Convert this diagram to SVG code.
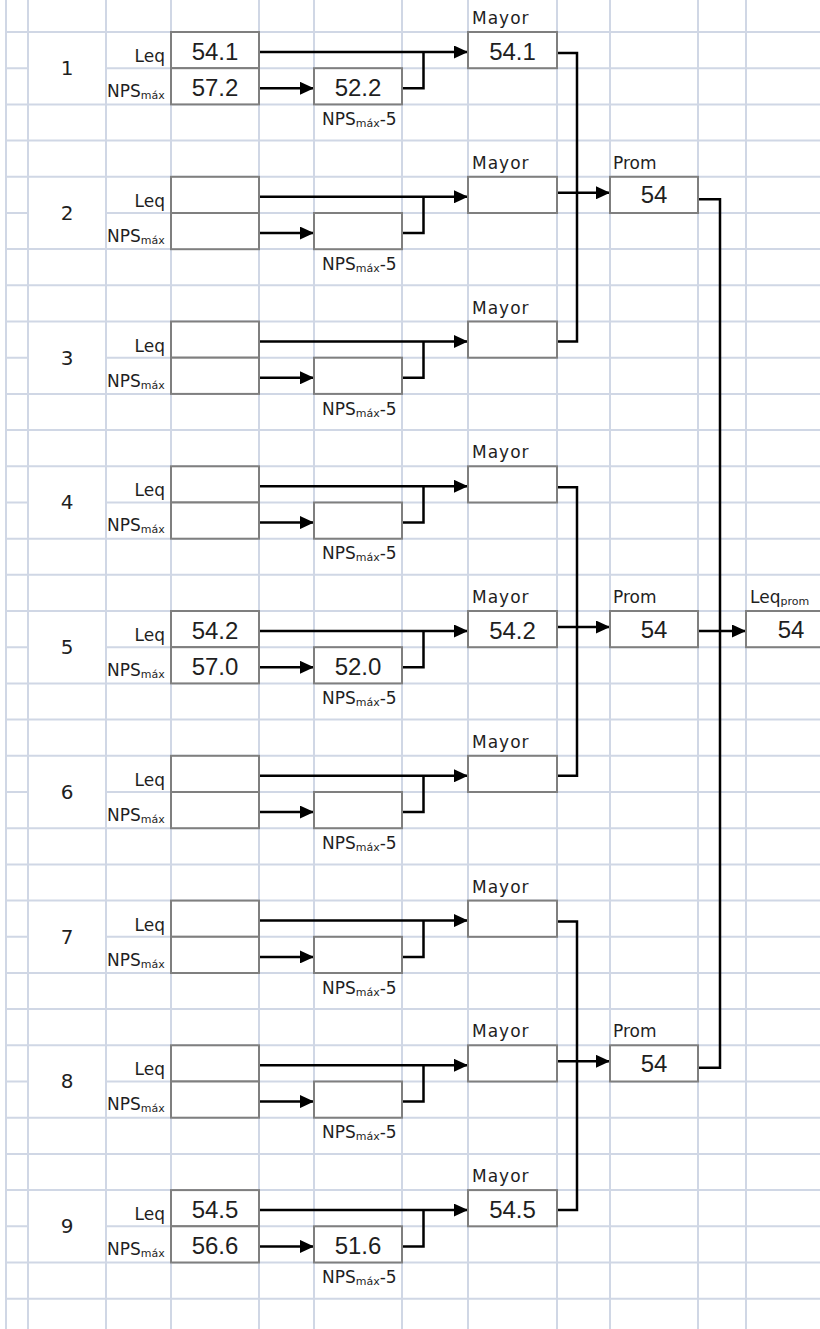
<svg xmlns="http://www.w3.org/2000/svg" width="820" height="1329" viewBox="0 0 820 1329">
<style>
.grid{fill:none;stroke:#d0d7e5;stroke-width:2}
.box{fill:#fff;stroke:#7f7f7f;stroke-width:2}
.lbl{font-family:"DejaVu Sans",sans-serif;font-size:17px;fill:#1f1f1f}
.sub{font-size:11px}
.num{font-family:"DejaVu Sans",sans-serif;font-size:20px;fill:#1f1f1f;text-anchor:middle}
.val{font-family:"Liberation Sans",Arial,sans-serif;font-size:24px;fill:#1f1f1f;text-anchor:middle}
.may{letter-spacing:1px}
.end{text-anchor:end}
.con{fill:none;stroke:#000;stroke-width:2.5}
.arw{marker-end:url(#arr)}
</style>
<defs>
<marker id="arr" markerUnits="userSpaceOnUse" markerWidth="14" markerHeight="13" refX="14" refY="6.5" orient="auto"><path d="M0 0L14 6.5L0 13z" fill="#000"/></marker>
</defs>
<rect width="820" height="1329" fill="#fff"/>
<path class="grid" d="M6 0V1329M28 0V1329M106 0V1329M171 0V1329M259 0V1329M314 0V1329M402 0V1329M468 0V1329M557 0V1329M610 0V1329M698 0V1329M746 0V1329
M6 32H820M6 104.4H820M6 140.6H820M6 176.8H820M6 249.1H820M6 285.3H820M6 321.5H820M6 393.9H820M6 430.1H820M6 466.3H820M6 538.7H820M6 574.8H820M6 611H820M6 683.4H820M6 719.6H820M6 755.8H820M6 828.2H820M6 864.4H820M6 900.6H820M6 972.9H820M6 1009.1H820M6 1045.3H820M6 1117.7H820M6 1153.9H820M6 1190.1H820M6 1262.5H820M6 1298.7H820
M6 68.2H28M106 68.2H820M6 212.9H28M106 212.9H820M6 357.7H28M106 357.7H820M6 502.5H28M106 502.5H820M6 647.2H28M106 647.2H820M6 792H28M106 792H820M6 936.8H28M106 936.8H820M6 1081.5H28M106 1081.5H820M6 1226.3H28M106 1226.3H820"/>
<g id="connectors">
<g transform="translate(0,32)"><path class="con arw" d="M259 20H468"/><path class="con arw" d="M259 56.3H314"/><path class="con" d="M402 56.3H423.5V20"/></g>
<g transform="translate(0,176.8)"><path class="con arw" d="M259 20H468"/><path class="con arw" d="M259 56.3H314"/><path class="con" d="M402 56.3H423.5V20"/></g>
<g transform="translate(0,321.5)"><path class="con arw" d="M259 20H468"/><path class="con arw" d="M259 56.3H314"/><path class="con" d="M402 56.3H423.5V20"/></g>
<g transform="translate(0,466.3)"><path class="con arw" d="M259 20H468"/><path class="con arw" d="M259 56.3H314"/><path class="con" d="M402 56.3H423.5V20"/></g>
<g transform="translate(0,611)"><path class="con arw" d="M259 20H468"/><path class="con arw" d="M259 56.3H314"/><path class="con" d="M402 56.3H423.5V20"/></g>
<g transform="translate(0,755.8)"><path class="con arw" d="M259 20H468"/><path class="con arw" d="M259 56.3H314"/><path class="con" d="M402 56.3H423.5V20"/></g>
<g transform="translate(0,900.6)"><path class="con arw" d="M259 20H468"/><path class="con arw" d="M259 56.3H314"/><path class="con" d="M402 56.3H423.5V20"/></g>
<g transform="translate(0,1045.3)"><path class="con arw" d="M259 20H468"/><path class="con arw" d="M259 56.3H314"/><path class="con" d="M402 56.3H423.5V20"/></g>
<g transform="translate(0,1190.1)"><path class="con arw" d="M259 20H468"/><path class="con arw" d="M259 56.3H314"/><path class="con" d="M402 56.3H423.5V20"/></g>
<path class="con" d="M557 53H577V341.5H557"/>
<path class="con arw" d="M557 192.8H610"/>
<path class="con" d="M557 487.3H577V775.8H557"/>
<path class="con arw" d="M557 627H610"/>
<path class="con" d="M557 921.6H577V1210.1H557"/>
<path class="con arw" d="M557 1061.3H610"/>
<path class="con" d="M698 199.3H720V1067.8H698"/>
<path class="con arw" d="M698 631H746"/>
</g>
<g id="group-1" transform="translate(0,32)">
<text class="num" x="67" y="43">1</text>
<text class="lbl end" x="165" y="30">Leq</text>
<text class="lbl" x="107" y="65">NPS<tspan class="sub" dy="2">máx</tspan></text>
<rect class="box" x="171" y="0" width="88" height="36.2"/><rect class="box" x="171" y="36.2" width="88" height="36.2"/>
<rect class="box" x="314" y="36.2" width="88" height="36.2"/>
<text class="lbl" x="322" y="93">NPS<tspan class="sub" dy="2">máx</tspan><tspan dy="-2">-5</tspan></text>
<text class="lbl may" x="472" y="-8">Mayor</text>
<rect class="box" x="468" y="0" width="89" height="36.2"/>
<text class="val" x="215" y="27.5">54.1</text><text class="val" x="215" y="64">57.2</text><text class="val" x="358" y="64">52.2</text><text class="val" x="512.5" y="27.5">54.1</text>
</g>
<g id="group-2" transform="translate(0,176.8)">
<text class="num" x="67" y="43">2</text>
<text class="lbl end" x="165" y="30">Leq</text>
<text class="lbl" x="107" y="65">NPS<tspan class="sub" dy="2">máx</tspan></text>
<rect class="box" x="171" y="0" width="88" height="36.2"/><rect class="box" x="171" y="36.2" width="88" height="36.2"/>
<rect class="box" x="314" y="36.2" width="88" height="36.2"/>
<text class="lbl" x="322" y="93">NPS<tspan class="sub" dy="2">máx</tspan><tspan dy="-2">-5</tspan></text>
<text class="lbl may" x="472" y="-8">Mayor</text>
<rect class="box" x="468" y="0" width="89" height="36.2"/>
</g>
<g id="group-3" transform="translate(0,321.5)">
<text class="num" x="67" y="43">3</text>
<text class="lbl end" x="165" y="30">Leq</text>
<text class="lbl" x="107" y="65">NPS<tspan class="sub" dy="2">máx</tspan></text>
<rect class="box" x="171" y="0" width="88" height="36.2"/><rect class="box" x="171" y="36.2" width="88" height="36.2"/>
<rect class="box" x="314" y="36.2" width="88" height="36.2"/>
<text class="lbl" x="322" y="93">NPS<tspan class="sub" dy="2">máx</tspan><tspan dy="-2">-5</tspan></text>
<text class="lbl may" x="472" y="-8">Mayor</text>
<rect class="box" x="468" y="0" width="89" height="36.2"/>
</g>
<g id="group-4" transform="translate(0,466.3)">
<text class="num" x="67" y="43">4</text>
<text class="lbl end" x="165" y="30">Leq</text>
<text class="lbl" x="107" y="65">NPS<tspan class="sub" dy="2">máx</tspan></text>
<rect class="box" x="171" y="0" width="88" height="36.2"/><rect class="box" x="171" y="36.2" width="88" height="36.2"/>
<rect class="box" x="314" y="36.2" width="88" height="36.2"/>
<text class="lbl" x="322" y="93">NPS<tspan class="sub" dy="2">máx</tspan><tspan dy="-2">-5</tspan></text>
<text class="lbl may" x="472" y="-8">Mayor</text>
<rect class="box" x="468" y="0" width="89" height="36.2"/>
</g>
<g id="group-5" transform="translate(0,611)">
<text class="num" x="67" y="43">5</text>
<text class="lbl end" x="165" y="30">Leq</text>
<text class="lbl" x="107" y="65">NPS<tspan class="sub" dy="2">máx</tspan></text>
<rect class="box" x="171" y="0" width="88" height="36.2"/><rect class="box" x="171" y="36.2" width="88" height="36.2"/>
<rect class="box" x="314" y="36.2" width="88" height="36.2"/>
<text class="lbl" x="322" y="93">NPS<tspan class="sub" dy="2">máx</tspan><tspan dy="-2">-5</tspan></text>
<text class="lbl may" x="472" y="-8">Mayor</text>
<rect class="box" x="468" y="0" width="89" height="36.2"/>
<text class="val" x="215" y="27.5">54.2</text><text class="val" x="215" y="64">57.0</text><text class="val" x="358" y="64">52.0</text><text class="val" x="512.5" y="27.5">54.2</text>
</g>
<g id="group-6" transform="translate(0,755.8)">
<text class="num" x="67" y="43">6</text>
<text class="lbl end" x="165" y="30">Leq</text>
<text class="lbl" x="107" y="65">NPS<tspan class="sub" dy="2">máx</tspan></text>
<rect class="box" x="171" y="0" width="88" height="36.2"/><rect class="box" x="171" y="36.2" width="88" height="36.2"/>
<rect class="box" x="314" y="36.2" width="88" height="36.2"/>
<text class="lbl" x="322" y="93">NPS<tspan class="sub" dy="2">máx</tspan><tspan dy="-2">-5</tspan></text>
<text class="lbl may" x="472" y="-8">Mayor</text>
<rect class="box" x="468" y="0" width="89" height="36.2"/>
</g>
<g id="group-7" transform="translate(0,900.6)">
<text class="num" x="67" y="43">7</text>
<text class="lbl end" x="165" y="30">Leq</text>
<text class="lbl" x="107" y="65">NPS<tspan class="sub" dy="2">máx</tspan></text>
<rect class="box" x="171" y="0" width="88" height="36.2"/><rect class="box" x="171" y="36.2" width="88" height="36.2"/>
<rect class="box" x="314" y="36.2" width="88" height="36.2"/>
<text class="lbl" x="322" y="93">NPS<tspan class="sub" dy="2">máx</tspan><tspan dy="-2">-5</tspan></text>
<text class="lbl may" x="472" y="-8">Mayor</text>
<rect class="box" x="468" y="0" width="89" height="36.2"/>
</g>
<g id="group-8" transform="translate(0,1045.3)">
<text class="num" x="67" y="43">8</text>
<text class="lbl end" x="165" y="30">Leq</text>
<text class="lbl" x="107" y="65">NPS<tspan class="sub" dy="2">máx</tspan></text>
<rect class="box" x="171" y="0" width="88" height="36.2"/><rect class="box" x="171" y="36.2" width="88" height="36.2"/>
<rect class="box" x="314" y="36.2" width="88" height="36.2"/>
<text class="lbl" x="322" y="93">NPS<tspan class="sub" dy="2">máx</tspan><tspan dy="-2">-5</tspan></text>
<text class="lbl may" x="472" y="-8">Mayor</text>
<rect class="box" x="468" y="0" width="89" height="36.2"/>
</g>
<g id="group-9" transform="translate(0,1190.1)">
<text class="num" x="67" y="43">9</text>
<text class="lbl end" x="165" y="30">Leq</text>
<text class="lbl" x="107" y="65">NPS<tspan class="sub" dy="2">máx</tspan></text>
<rect class="box" x="171" y="0" width="88" height="36.2"/><rect class="box" x="171" y="36.2" width="88" height="36.2"/>
<rect class="box" x="314" y="36.2" width="88" height="36.2"/>
<text class="lbl" x="322" y="93">NPS<tspan class="sub" dy="2">máx</tspan><tspan dy="-2">-5</tspan></text>
<text class="lbl may" x="472" y="-8">Mayor</text>
<rect class="box" x="468" y="0" width="89" height="36.2"/>
<text class="val" x="215" y="27.5">54.5</text><text class="val" x="215" y="64">56.6</text><text class="val" x="358" y="64">51.6</text><text class="val" x="512.5" y="27.5">54.5</text>
</g>
<g id="prom-1" transform="translate(0,176.8)">
<text class="lbl" x="613" y="-8">Prom</text>
<rect class="box" x="610" y="0" width="88" height="36.2"/>
<text class="val" x="654" y="26.5">54</text>
</g>
<g id="prom-2" transform="translate(0,611)">
<text class="lbl" x="613" y="-8">Prom</text>
<rect class="box" x="610" y="0" width="88" height="36.2"/>
<text class="val" x="654" y="26.5">54</text>
</g>
<g id="prom-3" transform="translate(0,1045.3)">
<text class="lbl" x="613" y="-8">Prom</text>
<rect class="box" x="610" y="0" width="88" height="36.2"/>
<text class="val" x="654" y="26.5">54</text>
</g>
<g id="leq-prom" transform="translate(0,611)">
<text class="lbl" x="750" y="-8">Leq<tspan class="sub" dy="2">prom</tspan></text>
<rect class="box" x="746" y="0" width="90" height="36.2"/>
<text class="val" x="791" y="26.5">54</text>
</g>
</svg>
